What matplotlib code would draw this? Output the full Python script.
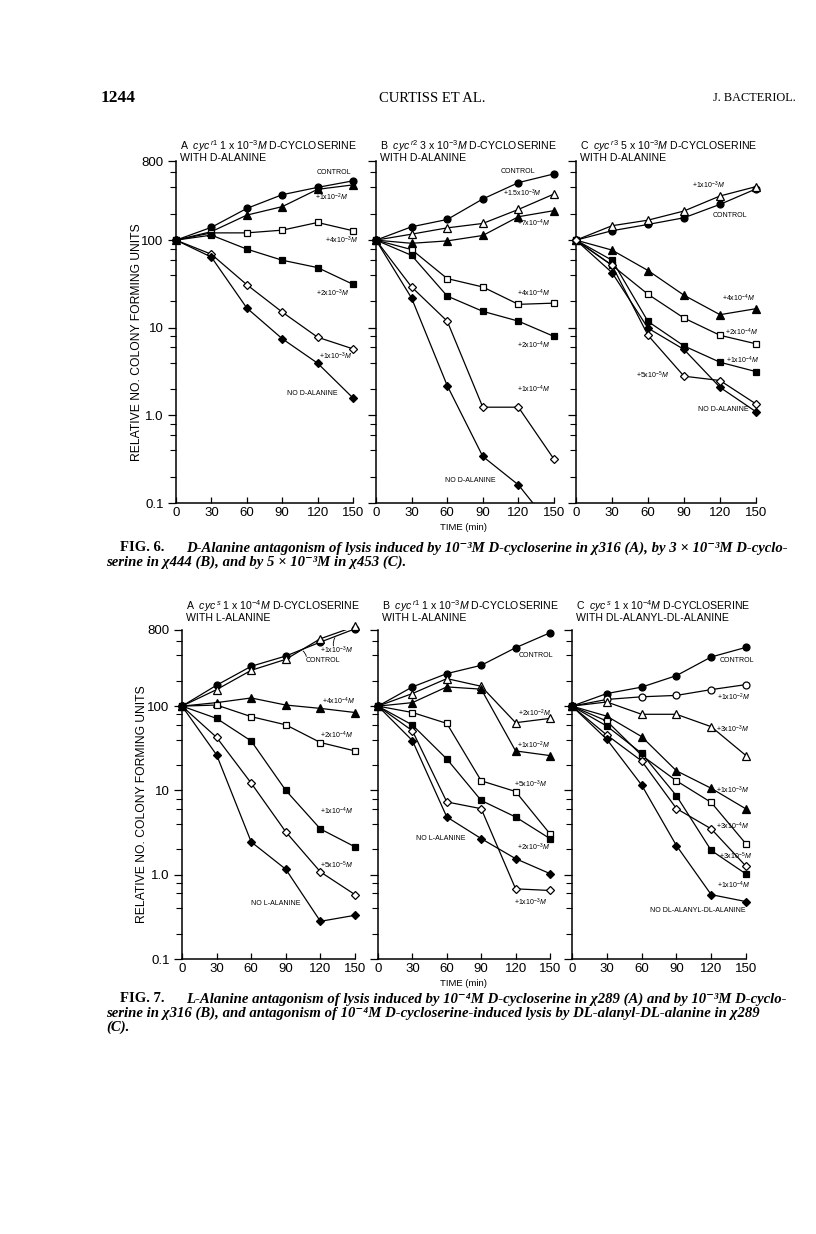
import numpy as np
import matplotlib.pyplot as plt
from matplotlib.ticker import FixedLocator, NullFormatter

plt.rcParams['font.family'] = ['Liberation Sans', 'DejaVu Sans']
plt.rcParams['mathtext.fontset'] = 'custom'
plt.rcParams['mathtext.rm'] = 'Liberation Sans'
plt.rcParams['mathtext.it'] = 'Liberation Sans:italic'
plt.rcParams['mathtext.bf'] = 'Liberation Sans:bold'

W, H = 816, 1234
t = [0, 30, 60, 90, 120, 150]

# ---- Fig. 6 A : cyc r1, 1e-3 M D-cycloserine + D-alanine
f6a_control = [100, 140, 230, 330, 400, 475]
f6a_1e2 = [100, 125, 193, 241, 380, 427]
f6a_4e3 = [100, 121, 121, 130, 159, 128]
f6a_2e3 = [100, 114, 79, 59, 48.6, 31.3]
f6a_1e3 = [100, 69, 31, 15.1, 7.8, 5.74]
f6a_none = [100, 64, 16.8, 7.5, 3.94, 1.58]

# ---- Fig. 6 B : cyc r2, 3e-3 M
f6b_control = [100, 142, 172, 295, 453, 570]
f6b_15e3 = [100, 117, 138, 155, 224, 336]
f6b_7e4 = [100, 92, 98, 113, 185, 217]
f6b_4e4 = [100, 78, 36.4, 29.2, 18.5, 19.1]
f6b_2e4 = [100, 67, 23, 15.4, 11.9, 7.96]
f6b_1e4 = [100, 29.2, 11.9, 1.24, 1.24, 0.316]
f6b_none = [100, 21.8, 2.19, 0.34, 0.161, 0.05]

# ---- Fig. 6 C : cyc r3, 5e-3 M
f6c_1e3 = [100, 146, 169, 215, 319, 408]
f6c_control = [100, 128, 151, 180, 256, 384]
f6c_4e4 = [100, 77, 45, 23.5, 14.1, 16.5]
f6c_2e4 = [100, 51.7, 24.1, 12.9, 8.2, 6.56]
f6c_1e4 = [100, 59, 11.8, 6.2, 4.04, 3.16]
f6c_5e5 = [100, 51.6, 8.2, 2.8, 2.5, 1.35]
f6c_none = [100, 42.6, 9.9, 5.65, 2.09, 1.1]

# ---- Fig. 7 A : cyc s, 1e-4 M + L-alanine
f7a_control = [100, 177, 297, 393, 575, 826]
f7a_1e3 = [100, 157, 266, 359, 630, 881]
f7a_4e4 = [100, 110, 125, 103, 94, 84]
f7a_2e4 = [100, 103, 75, 60, 37, 29.4]
f7a_1e4 = [100, 71.5, 38.6, 10, 3.49, 2.14]
f7a_5e5 = [100, 42.6, 12.2, 3.22, 1.08, 0.58]
f7a_none = [100, 26.4, 2.45, 1.16, 0.28, 0.33]

# ---- Fig. 7 B : cyc r1, 1e-3 M + L-alanine
f7b_control = [100, 169, 243, 305, 493, 741]
f7b_2e2 = [100, 141, 212, 172, 63.6, 71.5]
f7b_1e2 = [100, 110, 169, 159, 29.4, 25.9]
f7b_5e3 = [100, 84, 62.4, 13, 9.7, 3.05]
f7b_2e3 = [100, 59.7, 23.6, 7.6, 4.84, 2.68]
f7b_1e3 = [100, 51, 7.3, 6.07, 0.68, 0.65]
f7b_none = [100, 39, 4.84, 2.68, 1.55, 1.03]

# ---- Fig. 7 C : cyc s, 1e-4 M + DL-alanyl-DL-alanine
f7c_control = [100, 141, 168, 230, 383, 498]
f7c_1e2 = [100, 120, 129, 134, 157, 180]
f7c_3e3 = [100, 112, 80, 80, 57, 25.9]
f7c_1e3 = [100, 76, 43.5, 17.1, 10.6, 6.03]
f7c_3e4 = [100, 66.5, 26.1, 13, 7.2, 2.32]
f7c_1e4 = [100, 58, 27.6, 8.65, 1.94, 1.02]
f7c_3e5 = [100, 45.4, 22.4, 6.1, 3.5, 1.26]
f7c_none = [100, 40.4, 11.6, 2.22, 0.58, 0.48]

STY = {
    'fc': ('o', 'k', 5.0), 'oc': ('o', 'w', 5.0),
    'ft': ('^', 'k', 5.5), 'ot': ('^', 'w', 5.5),
    'fs': ('s', 'k', 4.6), 'os': ('s', 'w', 4.6),
    'fd': ('D', 'k', 4.4), 'od': ('D', 'w', 4.4),
}


def M(s):
    return s + r'$\it{M}$'


panels6 = [
    ((176, 353), 'A', r'$\it{cyc}^{\,r1}$ 1 x 10$^{-3}$$\it{M}$ D-CYCLOSERINE', 'WITH D-ALANINE', [
        (f6a_control, 'fc', 'CONTROL', (119, 590)),
        (f6a_1e2, 'ft', M(r'+1x10$^{-2}$'), (118, 305)),
        (f6a_4e3, 'os', M(r'+4x10$^{-3}$'), (126, 100)),
        (f6a_2e3, 'fs', M(r'+2x10$^{-3}$'), (119, 24.5)),
        (f6a_1e3, 'od', M(r'+1x10$^{-3}$'), (121, 4.7)),
        (f6a_none, 'fd', 'NO D-ALANINE', (94, 1.8)),
    ]),
    ((376, 554), 'B', r'$\it{cyc}^{\,r2}$ 3 x 10$^{-3}$$\it{M}$ D-CYCLOSERINE', 'WITH D-ALANINE', [
        (f6b_control, 'fc', 'CONTROL', (105, 606)),
        (f6b_15e3, 'ot', M(r'+1.5x10$^{-3}$'), (107, 342)),
        (f6b_7e4, 'ft', M(r'+7x10$^{-4}$'), (119, 155)),
        (f6b_4e4, 'os', M(r'+4x10$^{-4}$'), (119, 24.5)),
        (f6b_2e4, 'fs', M(r'+2x10$^{-4}$'), (119, 6.3)),
        (f6b_1e4, 'od', M(r'+1x10$^{-4}$'), (119, 2.0)),
        (f6b_none, 'fd', 'NO D-ALANINE', (58, 0.18)),
    ]),
    ((576, 756), 'C', r'$\it{cyc}^{\,r3}$ 5 x 10$^{-3}$$\it{M}$ D-CYCLOSERINE', 'WITH D-ALANINE', [
        (f6c_control, 'fc', 'CONTROL', (114, 193)),
        (f6c_1e3, 'ot', M(r'+1x10$^{-3}$'), (97, 419)),
        (f6c_4e4, 'ft', M(r'+4x10$^{-4}$'), (122, 21.5)),
        (f6c_1e4, 'fs', M(r'+1x10$^{-4}$'), (125, 4.3)),
        (f6c_none, 'fd', 'NO D-ALANINE', (102, 1.16)),
        (f6c_2e4, 'os', M(r'+2x10$^{-4}$'), (124, 8.9)),
        (f6c_5e5, 'od', M(r'+5x10$^{-5}$'), (50, 2.9)),
    ]),
]

panels7 = [
    ((182, 355), 'A', r'$\it{cyc}^{\,s}$ 1 x 10$^{-4}$$\it{M}$ D-CYCLOSERINE', 'WITH L-ALANINE', [
        (f7a_control, 'fc', 'CONTROL', (107, 347)),
        (f7a_1e3, 'ot', M(r'+1x10$^{-3}$'), (120, 455)),
        (f7a_4e4, 'ft', M(r'+4x10$^{-4}$'), (121, 115)),
        (f7a_2e4, 'os', M(r'+2x10$^{-4}$'), (120, 45)),
        (f7a_1e4, 'fs', M(r'+1x10$^{-4}$'), (120, 5.6)),
        (f7a_5e5, 'od', M(r'+5x10$^{-5}$'), (120, 1.3)),
        (f7a_none, 'fd', 'NO L-ALANINE', (60, 0.45)),
    ]),
    ((378, 550), 'B', r'$\it{cyc}^{\,r1}$ 1 x 10$^{-3}$$\it{M}$ D-CYCLOSERINE', 'WITH L-ALANINE', [
        (f7b_control, 'fc', 'CONTROL', (123, 400)),
        (f7b_2e2, 'ot', M(r'+2x10$^{-2}$'), (122, 83)),
        (f7b_1e2, 'ft', M(r'+1x10$^{-2}$'), (121, 34)),
        (f7b_5e3, 'os', M(r'+5x10$^{-3}$'), (119, 11.7)),
        (f7b_2e3, 'fs', M(r'+2x10$^{-3}$'), (121, 2.1)),
        (f7b_1e3, 'od', M(r'+1x10$^{-3}$'), (119, 0.47)),
        (f7b_none, 'fd', 'NO L-ALANINE', (33, 2.7)),
    ]),
    ((572, 746), 'C', r'$\it{cyc}^{\,s}$ 1 x 10$^{-4}$$\it{M}$ D-CYCLOSERINE', 'WITH DL-ALANYL-DL-ALANINE', [
        (f7c_control, 'fc', 'CONTROL', (127, 349)),
        (f7c_1e2, 'oc', M(r'+1x10$^{-2}$'), (125, 128)),
        (f7c_3e3, 'ot', M(r'+3x10$^{-3}$'), (124, 53)),
        (f7c_1e3, 'ft', M(r'+1x10$^{-3}$'), (124, 10)),
        (f7c_3e4, 'os', M(r'+3x10$^{-4}$'), (124, 3.7)),
        (f7c_1e4, 'fs', M(r'+1x10$^{-4}$'), (125, 0.75)),
        (f7c_3e5, 'od', M(r'+3x10$^{-5}$'), (127, 1.67)),
        (f7c_none, 'fd', 'NO DL-ALANYL-DL-ALANINE', (67, 0.38)),
    ]),
]

fig = plt.figure(figsize=(W / 100, H / 100), dpi=100)


def fx(x):
    return x / W


def fy(y):
    return 1 - y / H


def draw_figure(panels, top, bottom, ttl_y, ylab_x):
    axes = []
    for i, ((x0, x1), letter, l1, l2, series) in enumerate(panels):
        ax = fig.add_axes([fx(x0), fy(bottom), (x1 - x0) / W, (bottom - top) / H])
        ax.set_yscale('log')
        ax.set_xlim(0, 150)
        ax.set_ylim(0.1, 800)
        for s in ['top', 'right']:
            ax.spines[s].set_visible(False)
        ax.spines['left'].set_linewidth(1.1)
        ax.spines['bottom'].set_linewidth(1.1)
        ax.set_xticks(t)
        ax.tick_params(axis='x', direction='in', length=4, width=0.9,
                       labelsize=9.5, pad=3)
        ax.yaxis.set_major_locator(FixedLocator([0.1, 1, 10, 100, 800]))
        mins = [m * 10.0 ** e for e in range(-1, 3) for m in (2, 4, 6, 8)]
        ax.yaxis.set_minor_locator(FixedLocator([v for v in mins if v < 800]))
        ax.yaxis.set_minor_formatter(NullFormatter())
        ax.tick_params(axis='y', which='major', direction='out', length=6, width=0.9,
                       labelsize=9.5, pad=3)
        ax.tick_params(axis='y', which='minor', direction='out', length=4, width=0.8)
        if i == 0:
            ax.set_yticklabels(['0.1', '1.0', '10', '100', '800'])
        else:
            ax.set_yticklabels([])
        for vals, key, lab, (lx, ly) in series:
            mk, fc, ms = STY[key]
            v = np.array(vals, dtype=float)
            ax.plot(t, v, '-', color='k', lw=0.9, zorder=2)
            keep = v >= 0.1
            ax.plot(np.array(t)[keep], v[keep], ls='none', marker=mk, ms=ms,
                    mfc=fc, mec='k', mew=0.9, clip_on=False, zorder=3)
            ax.text(lx, ly, lab, fontsize=5.0, va='center', ha='left')
        axes.append(ax)
        fig.text(fx(x0 + 4), fy(ttl_y), letter + '  ' + l1, fontsize=7.6,
                 va='center', ha='left')
        fig.text(fx(x0 + 4), fy(ttl_y + 12), l2, fontsize=7.6,
                 va='center', ha='left')
    fig.text(fx(ylab_x), fy((top + bottom) / 2 + 10), 'RELATIVE NO. COLONY FORMING UNITS',
             rotation=90, fontsize=8.7, va='center', ha='center')
    return axes


ax6 = draw_figure(panels6, 161, 503, 146, 137)
ax7 = draw_figure(panels7, 630, 959, 606, 142)

# pointers in Fig. 7 A
ax7[0].annotate('', xy=(103, 470), xytext=(108, 360),
                arrowprops=dict(arrowstyle='-', lw=0.6, connectionstyle='arc3,rad=0.3'))
ax7[0].annotate('', xy=(134, 690), xytext=(132, 480),
                arrowprops=dict(arrowstyle='-', lw=0.6, connectionstyle='arc3,rad=-0.3'))

fig.text(fx(464), fy(528), 'TIME (min)', fontsize=6.8, ha='center', va='center')
fig.text(fx(464), fy(984), 'TIME (min)', fontsize=6.8, ha='center', va='center')

# page header
serif = ['Liberation Serif', 'DejaVu Serif']
fig.text(fx(101), fy(98), '1244', family=serif, fontsize=12.5, weight='bold',
         ha='left', va='center')
fig.text(fx(432), fy(98), 'CURTISS ET AL.', family=serif, fontsize=10.5,
         ha='center', va='center')
fig.text(fx(796), fy(98), 'J. BACTERIOL.', family=serif, fontsize=8.8,
         ha='right', va='center')

# captions
cap6 = ['D-Alanine antagonism of lysis induced by 10\u207b\u00b3M D-cycloserine in \u03c7316 (A), by 3 \u00d7 10\u207b\u00b3M D-cyclo-',
        'serine in \u03c7444 (B), and by 5 \u00d7 10\u207b\u00b3M in \u03c7453 (C).']
cap7 = ['L-Alanine antagonism of lysis induced by 10\u207b\u2074M D-cycloserine in \u03c7289 (A) and by 10\u207b\u00b3M D-cyclo-',
        'serine in \u03c7316 (B), and antagonism of 10\u207b\u2074M D-cycloserine-induced lysis by DL-alanyl-DL-alanine in \u03c7289',
        '(C).']


def caption(lines, label, y0):
    fig.text(fx(120), fy(y0), label, family=serif, fontsize=10.5, weight='bold',
             ha='left', va='center')
    for k, ln in enumerate(lines):
        x = 186 if k == 0 else 106
        fig.text(fx(x), fy(y0 + 14 * k), ln, family=serif, fontsize=10.6,
                 style='italic', weight='bold', ha='left', va='center')


caption(cap6, 'FIG. 6.', 548)
caption(cap7, 'FIG. 7.', 999)

fig.savefig('out.png', dpi=100)
